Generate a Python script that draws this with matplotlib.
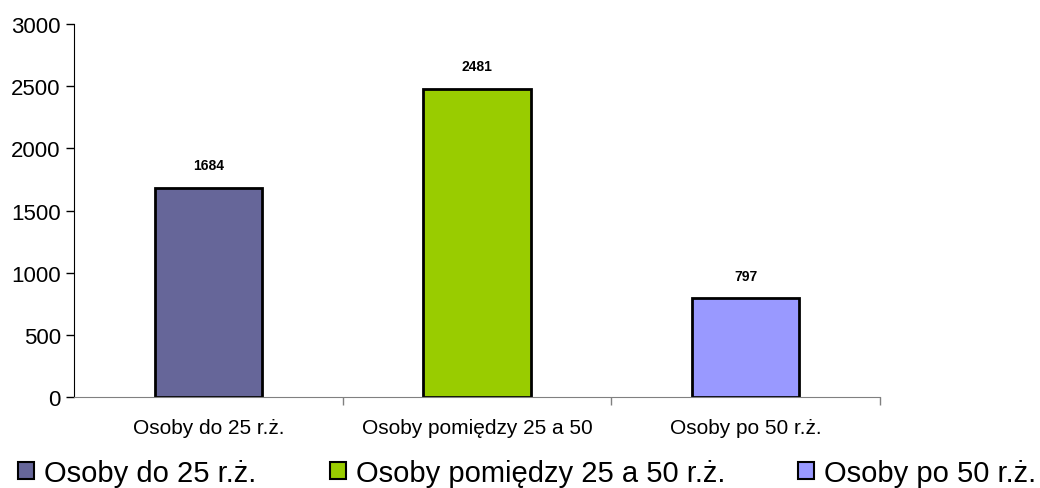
import matplotlib.pyplot as plt
from matplotlib.patches import Patch

categories = ['Osoby do 25 r.ż.', 'Osoby pomiędzy 25 a 50', 'Osoby po 50 r.ż.']
values = [1684, 2481, 797]
legend_labels = ['Osoby do 25 r.ż.', 'Osoby pomiędzy 25 a 50 r.ż.', 'Osoby po 50 r.ż.']
colors = ['#666699', '#99CC00', '#9999FF']

plt.rcParams['font.family'] = ['Liberation Sans', 'DejaVu Sans']

fig = plt.figure(figsize=(10.4, 4.89), dpi=100)
ax = fig.add_axes([74/1040, 91/489, 806/1040, 373/489])

x = range(len(values))
bars = ax.bar(x, values, width=0.4, color=colors, edgecolor='black', linewidth=2)
for b, v in zip(bars, values):
    ax.annotate(str(v), (b.get_x() + b.get_width()/2, v), xytext=(0, 11),
                textcoords='offset points', ha='center', va='bottom',
                fontsize=10, fontweight='bold')

ax.set_xlim(-0.5, 2.5)
ax.set_ylim(0, 3000)
ax.set_yticks(range(0, 3001, 500))
ax.tick_params(axis='y', labelsize=16, direction='out', length=6, width=1)
ax.set_xticks(list(x))
ax.set_xticklabels(categories, fontsize=15)
ax.tick_params(axis='x', length=0, pad=15)
ax.set_xticks([0.5, 1.5, 2.5], minor=True)
ax.tick_params(axis='x', which='minor', length=6, width=1, direction='out', color='#808080')
ax.spines['top'].set_visible(False)
ax.spines['right'].set_visible(False)
ax.spines['bottom'].set_color('#808080')

handles = [Patch(facecolor=c, edgecolor='black', linewidth=1.5) for c in colors]
fig.legend(handles, legend_labels, loc='center', bbox_to_anchor=(0.507, 0.031), ncol=3,
           frameon=False, fontsize=21, handlelength=0.55, handleheight=0.55,
           handletextpad=0.35, columnspacing=2.5, borderpad=0, borderaxespad=0)

fig.savefig('out.png', dpi=100)
